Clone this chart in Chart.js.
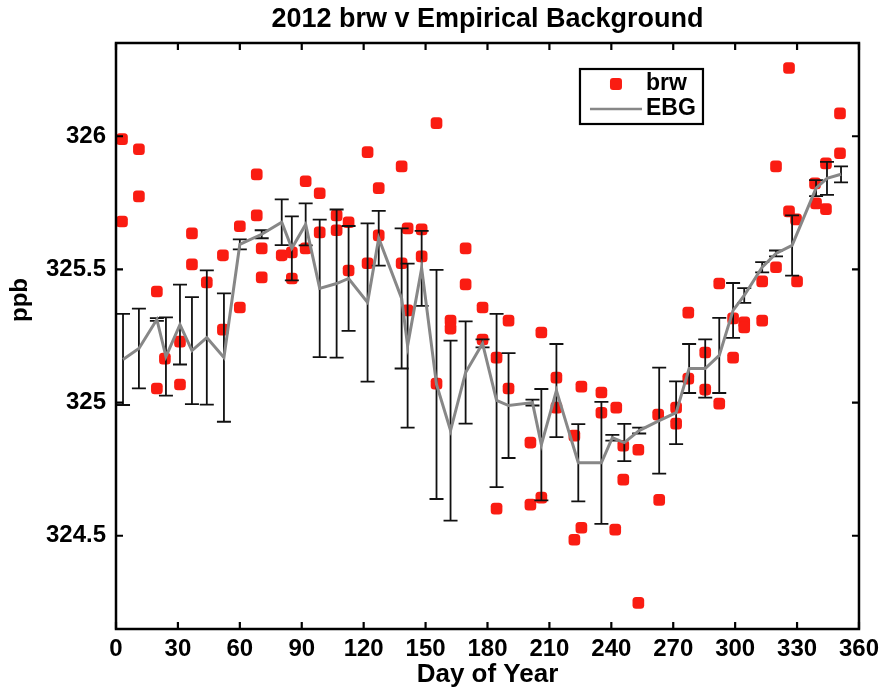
<!DOCTYPE html>
<html><head><meta charset="utf-8">
<script src="https://cdn.jsdelivr.net/npm/chart.js@4.4.0/dist/chart.umd.min.js"></script>
<style>html,body{margin:0;padding:0;background:#fff}#wrap{width:885px;height:690px}</style>
</head><body><div id="wrap"><canvas id="c" width="885" height="690"></canvas></div>
<script>
// ---- data ----
const brwDays = [2.9,2.9,11.1,11.1,19.8,19.8,23.7,31.0,31.0,36.8,36.8,44.0,51.8,51.8,60.0,60.0,68.2,68.2,70.6,70.6,
  80.3,85.2,85.2,91.9,91.9,98.7,98.7,106.9,106.9,112.7,112.7,121.9,121.9,127.3,127.3,138.4,138.4,141.3,141.3,148.1,148.1,
  155.3,155.3,162.1,162.1,169.4,169.4,177.6,177.6,184.4,184.4,190.2,190.2,200.8,200.8,206.1,206.1,213.4,213.4,
  222.1,222.1,225.5,225.5,235.2,235.2,241.9,242.4,245.8,245.8,253.1,253.1,262.7,263.2,271.4,271.4,277.3,277.3,
  285.5,285.5,292.3,292.3,299.0,299.0,304.4,304.4,313.1,313.1,319.8,319.8,326.1,326.1,329.5,330.0,338.7,339.2,
  344.0,344.0,350.8,350.8];
const brwValues = [325.989,325.680,325.951,325.774,325.417,325.053,325.165,325.229,325.068,325.635,325.519,325.451,325.553,325.274,325.662,325.357,325.857,325.703,325.579,325.470,
  325.553,325.564,325.466,325.831,325.579,325.786,325.639,325.703,325.647,325.677,325.496,325.940,325.523,325.805,325.628,325.887,325.523,325.654,325.346,325.650,325.549,
  326.049,325.071,325.308,325.278,325.579,325.444,325.357,325.237,325.169,324.602,325.308,325.053,324.850,324.617,325.263,324.643,325.094,324.981,
  324.876,324.485,325.060,324.530,325.038,324.962,324.523,324.981,324.838,324.711,324.823,324.248,324.955,324.635,324.981,324.921,325.338,325.090,
  325.188,325.049,325.447,324.996,325.316,325.169,325.301,325.282,325.455,325.308,325.887,325.508,326.256,325.718,325.688,325.455,325.823,325.748,
  325.898,325.726,326.086,325.936];

const ebgDays = [3.4,11.1,19.8,24.2,31.0,36.8,44.0,52.3,60.0,70.6,80.3,85.2,91.9,98.7,106.9,112.7,121.9,127.3,138.4,141.3,148.1,
  155.3,162.1,169.4,177.6,184.4,190.2,201.8,206.1,213.4,224.0,235.2,240.5,246.3,253.5,263.2,271.4,277.7,285.5,292.3,299.0,
  304.4,313.1,319.8,327.6,339.2,344.5,351.3];
const ebgValues = [325.162,325.203,325.312,325.173,325.293,325.195,325.244,325.169,325.594,325.632,325.677,325.579,325.669,325.429,325.447,325.466,325.376,325.617,325.391,325.214,325.504,
  325.068,324.895,325.113,325.222,325.008,324.989,325.000,324.842,325.045,324.774,324.774,324.868,324.850,324.895,324.932,324.962,325.128,325.128,325.177,325.346,
  325.402,325.508,325.560,325.590,325.805,325.842,325.857];
const ebgErrors = [0.171,0.150,0.005,0.147,0.150,0.201,0.252,0.241,0.019,0.015,0.086,0.120,0.079,0.258,0.278,0.197,0.297,0.103,0.263,0.308,0.141,
  0.430,0.338,0.192,0.015,0.325,0.197,0.011,0.209,0.175,0.145,0.229,0.011,0.070,0.011,0.199,0.118,0.092,0.109,0.141,0.103,
  0.028,0.019,0.011,0.113,0.030,0.062,0.030];

const xTicks = [0,30,60,90,120,150,180,210,240,270,300,330,360];
const yTicks = [324.5,325,325.5,326];
const yLabels = ['324.5','325','325.5','326'];
const titleText = '2012 brw v Empirical Background';
const yTitle = 'ppb';

// ---- styles ----
const FONT = '"Liberation Sans", Arial, Helvetica, sans-serif';
const RED = 'rgb(250,28,18)';
const GRAY = 'rgb(135,135,135)';

const errorBars = {
  id: 'errorBars',
  beforeDatasetDraw(chart, args) {
    if (args.index !== 1) return;
    const {ctx, scales: {x, y}} = chart;
    ctx.save();
    ctx.strokeStyle = '#111';
    ctx.lineWidth = 1.8;
    ebgDays.forEach((d, i) => {
      const px = x.getPixelForValue(d);
      const t = y.getPixelForValue(ebgValues[i] + ebgErrors[i]);
      const b = y.getPixelForValue(ebgValues[i] - ebgErrors[i]);
      ctx.beginPath();
      ctx.moveTo(px, t); ctx.lineTo(px, b);
      ctx.moveTo(px - 7, t); ctx.lineTo(px + 7, t);
      ctx.moveTo(px - 7, b); ctx.lineTo(px + 7, b);
      ctx.stroke();
    });
    ctx.restore();
  }
};

const frame = {
  id: 'frame',
  afterDraw(chart) {
    const {ctx, chartArea: a, scales: {x, y}} = chart;
    ctx.save();
    ctx.strokeStyle = '#000';
    ctx.lineWidth = 2.5;
    ctx.strokeRect(a.left, a.top, a.right - a.left, a.bottom - a.top);
    ctx.lineWidth = 2.2;
    ctx.beginPath();
    xTicks.forEach(v => {
      const px = x.getPixelForValue(v);
      ctx.moveTo(px, a.bottom); ctx.lineTo(px, a.bottom - 7);
      ctx.moveTo(px, a.top); ctx.lineTo(px, a.top + 7);
    });
    yTicks.forEach(v => {
      const py = y.getPixelForValue(v);
      ctx.moveTo(a.left, py); ctx.lineTo(a.left + 7, py);
      ctx.moveTo(a.right, py); ctx.lineTo(a.right - 7, py);
    });
    ctx.stroke();

    // title centred over the plot area
    ctx.fillStyle = '#000';
    ctx.font = 'bold 27px ' + FONT;
    ctx.textAlign = 'center';
    ctx.textBaseline = 'alphabetic';
    ctx.fillText(titleText, (a.left + a.right) / 2, a.top - 16);

    // y axis title
    ctx.font = 'bold 24px ' + FONT;
    ctx.textBaseline = 'middle';
    ctx.save();
    ctx.translate(20, a.top + 257);
    ctx.rotate(-Math.PI / 2);
    ctx.fillText(yTitle, 0, 0);
    ctx.restore();

    // legend box
    const x0 = a.right - 279, y0 = a.top + 26, w = 123, h = 55;
    ctx.fillStyle = '#fff';
    ctx.fillRect(x0, y0, w, h);
    ctx.strokeStyle = '#000';
    ctx.lineWidth = 2.2;
    ctx.strokeRect(x0, y0, w, h);
    const ds = chart.data.datasets;
    ctx.font = 'bold 23px ' + FONT;
    ctx.textAlign = 'left';
    ctx.textBaseline = 'middle';
    ctx.fillStyle = RED;
    ctx.beginPath();
    ctx.roundRect(x0 + 30, y0 + 9, 12, 12, 3);
    ctx.fill();
    ctx.fillStyle = '#000';
    ctx.fillText(ds[0].label, x0 + 66, y0 + 15);
    ctx.strokeStyle = GRAY;
    ctx.lineWidth = 2.5;
    ctx.beginPath();
    ctx.moveTo(x0 + 10, y0 + 40); ctx.lineTo(x0 + 62, y0 + 40);
    ctx.stroke();
    ctx.fillText(ds[1].label, x0 + 66, y0 + 40);
    ctx.restore();
  }
};

new Chart(document.getElementById('c'), {
  data: {
    datasets: [
      {
        type: 'scatter', label: 'brw', order: 2,
        data: brwDays.map((d, i) => ({x: d, y: brwValues[i]})),
        pointStyle: 'rectRounded', pointRadius: 6.8, pointHoverRadius: 6.8,
        backgroundColor: RED, borderColor: RED, borderWidth: 0
      },
      {
        type: 'line', label: 'EBG', order: 1,
        data: ebgDays.map((d, i) => ({x: d, y: ebgValues[i]})),
        borderColor: GRAY, borderWidth: 3, pointRadius: 0, tension: 0, fill: false
      }
    ]
  },
  options: {
    responsive: false, animation: false, devicePixelRatio: 1,
    layout: {padding: {left: 0, right: 25, top: 43, bottom: 0}},
    plugins: {
      legend: {display: false},
      tooltip: {enabled: false},
      title: {display: false}
    },
    scales: {
      x: {
        type: 'linear', min: 0, max: 360,
        afterBuildTicks: s => { s.ticks = xTicks.map(v => ({value: v})); },
        afterFit: s => { s.height = 61; },
        ticks: {color: '#000', font: {family: FONT, size: 24, weight: 'bold'}, padding: 6, maxRotation: 0},
        grid: {drawOnChartArea: false, drawTicks: false},
        border: {display: false},
        title: {display: true, text: 'Day of Year', color: '#000', font: {family: FONT, size: 26, weight: 'bold'}, padding: {top: 0, bottom: 0}}
      },
      y: {
        type: 'linear', min: 324.15, max: 326.35,
        afterBuildTicks: s => { s.ticks = yTicks.map(v => ({value: v})); },
        afterFit: s => { s.width = 116; },
        ticks: {color: '#000', font: {family: FONT, size: 24, weight: 'bold'}, padding: 10,
          callback: (v) => { const i = yTicks.indexOf(v); return i >= 0 ? yLabels[i] : ''; }},
        grid: {drawOnChartArea: false, drawTicks: false},
        border: {display: false},
        title: {display: false}
      }
    }
  },
  plugins: [errorBars, frame]
});
</script>
</body></html>
